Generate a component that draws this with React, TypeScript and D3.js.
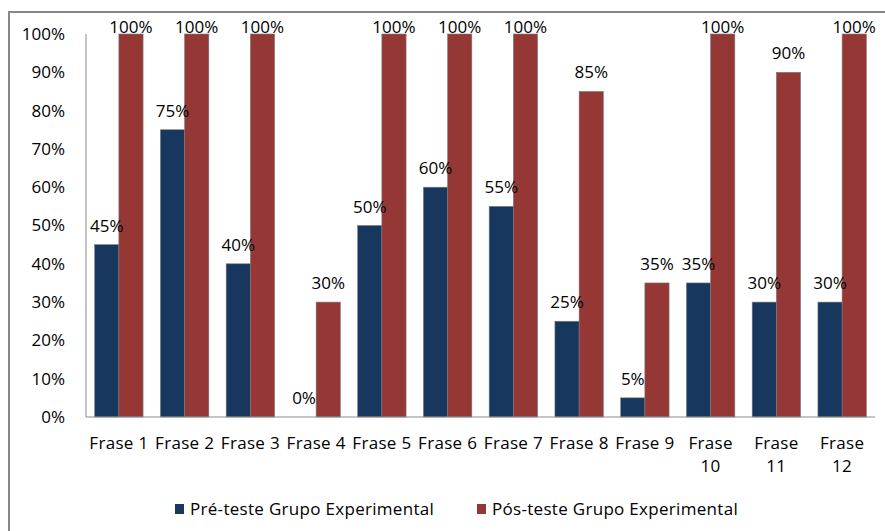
import React from "react";
import * as d3 from "d3";

const categories = ["Frase 1", "Frase 2", "Frase 3", "Frase 4", "Frase 5", "Frase 6", "Frase 7", "Frase 8", "Frase 9", "Frase 10", "Frase 11", "Frase 12"];
const preTeste = [45, 75, 40, 0, 50, 60, 55, 25, 5, 35, 30, 30];
const posTeste = [100, 100, 100, 30, 100, 100, 100, 85, 35, 100, 90, 100];
const seriesNames = ["Pré-teste Grupo Experimental", "Pós-teste Grupo Experimental"];
const yTicks = [0, 10, 20, 30, 40, 50, 60, 70, 80, 90, 100];

const W = 885;
const H = 531;
const FONT = "'Open Sans', 'Liberation Sans', sans-serif";
const FS = 17;
const LS = 0.3;
const colors = ["#17375E", "#953735"];

export default function App() {
  const left = 86, right = 875, top = 34, bottom = 417;
  const x0 = d3.scaleBand<string>().domain(categories).range([left, right]).paddingInner(0).paddingOuter(0);
  const bw = 24.2;
  const y = d3.scaleLinear().domain([0, 100]).range([bottom, top]);
  const series = [preTeste, posTeste];

  return (
    <svg width={W} height={H} style={{ position: "absolute", left: 0, top: 0, background: "#fff" }} fontFamily={FONT}>
      <rect x={9} y={12} width={W + 20} height={H + 20} fill="#fff" stroke="#878787" strokeWidth={2} />
      {yTicks.map((t) => (
        <text key={t} x={65} y={y(t)} dy="0.35em" textAnchor="end" fontSize={FS} fill="#000">{t}%</text>
      ))}
      {categories.map((c, i) => {
        const cx = (x0(c) as number) + x0.bandwidth() / 2;
        return (
          <g key={c}>
            {series.map((s, si) => {
              const v = s[i];
              const bx = cx - bw + si * bw;
              const yt = y(v);
              return (
                <g key={si}>
                  {v > 0 && (
                    <rect x={bx} y={yt} width={bw} height={bottom - yt} fill={colors[si]} stroke="#7a7a7a" strokeWidth={0.6} />
                  )}
                </g>
              );
            })}
          </g>
        );
      })}
      <line x1={left} x2={left} y1={top} y2={bottom} stroke="#8c8c8c" strokeWidth={1} />
      <line x1={left} x2={right} y1={bottom} y2={bottom} stroke="#8c8c8c" strokeWidth={1} />
      {categories.map((c, i) => {
        const cx = (x0(c) as number) + x0.bandwidth() / 2;
        return (
          <g key={"l" + c}>
            {series.map((s, si) => {
              const v = s[i];
              const bx = cx - bw + si * bw + bw / 2;
              const ly = Math.max(y(v) - 13, 33);
              return (
                <text key={si} x={bx} y={ly} textAnchor="middle" fontSize={FS} fill="#000">{v}%</text>
              );
            })}
          </g>
        );
      })}
      {categories.map((c) => {
        const cx = (x0(c) as number) + x0.bandwidth() / 2;
        const parts = c.length > 7 ? c.split(" ") : [c];
        return (
          <text key={"x" + c} x={cx} y={449} textAnchor="middle" fontSize={FS} letterSpacing={LS} fill="#000">
            {parts.map((p, j) => (
              <tspan key={j} x={cx} dy={j === 0 ? 0 : 23}>{p}</tspan>
            ))}
          </text>
        );
      })}
      {seriesNames.map((n, i) => {
        const lx = i === 0 ? 175 : 477;
        return (
          <g key={n}>
            <rect x={lx} y={504} width={9} height={10} fill={colors[i]} />
            <text x={lx + 15} y={509} dy="0.35em" fontSize={FS} letterSpacing={LS} fill="#000">{n}</text>
          </g>
        );
      })}
    </svg>
  );
}
